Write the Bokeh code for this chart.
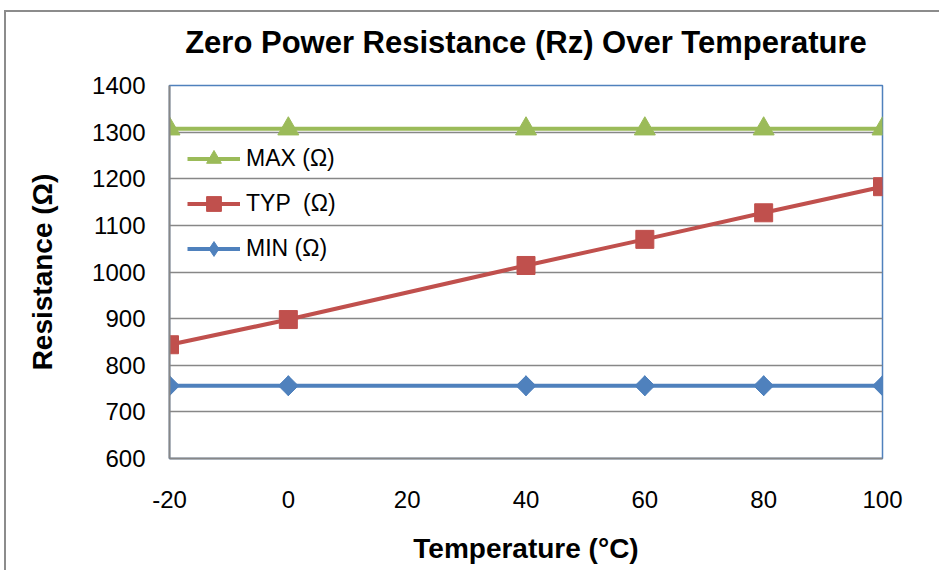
import math
from bokeh.plotting import figure
from bokeh.models import Legend, LegendItem, FixedTicker, Range1d, Title
from bokeh.embed import file_html
from bokeh.resources import INLINE

temps = [-20, 0, 40, 60, 80, 100]
max_vals = [1307, 1307, 1307, 1307, 1307, 1307]
typ_vals = [844, 898, 1014, 1070, 1127, 1183]
min_vals = [756, 756, 756, 756, 756, 756]
x_ticks = [-20, 0, 20, 40, 60, 80, 100]
x_tick_labels = ["-20", "0", "20", "40", "60", "80", "100"]
y_ticks = [600, 700, 800, 900, 1000, 1100, 1200, 1300, 1400]
title_text = "Zero Power Resistance (Rz) Over Temperature"

FONT = "Liberation Sans"
BLUE = "#4F81BD"
RED = "#C0504D"
GREEN = "#9BBB59"
GRID = "#878787"

p = figure(width=935, height=560, output_backend="svg", toolbar_location=None,
           x_range=Range1d(-20, 100), y_range=Range1d(600, 1400),
           min_border_left=163, min_border_top=72, min_border_right=59, min_border_bottom=114)
p.styles = {"margin-left": "6px", "margin-top": "12px", "box-shadow": "-2px -2px 0 0 #8c8c8c"}

# spacer title next to the frame, then the real title above it
p.add_layout(Title(text=" ", text_font_size="8px", standoff=5), "above")
p.add_layout(Title(text=title_text, text_font=FONT, text_font_size="31px",
                   text_font_style="bold", text_color="black", align="center",
                   standoff=20), "above")

p.outline_line_color = BLUE
p.outline_line_width = 1.5
p.background_fill_color = "white"
p.border_fill_color = "white"

p.xgrid.grid_line_color = None
p.ygrid.grid_line_color = GRID
p.ygrid.grid_line_width = 1.5

for ax in (p.xaxis[0], p.yaxis[0]):
    ax.axis_line_color = GRID
    ax.axis_line_width = 2
    ax.major_tick_line_color = None
    ax.minor_tick_line_color = None
    ax.major_tick_out = 0
    ax.major_tick_in = 0
    ax.major_label_text_font = FONT
    ax.major_label_text_font_size = "24px"
    ax.major_label_text_color = "black"
    ax.axis_label_text_font = FONT
    ax.axis_label_text_font_size = "28px"
    ax.axis_label_text_font_style = "bold"
    ax.axis_label_text_color = "black"

p.xaxis.ticker = FixedTicker(ticks=x_ticks)
p.xaxis.major_label_overrides = {t: lab for t, lab in zip(x_ticks, x_tick_labels)}
p.yaxis.ticker = FixedTicker(ticks=y_ticks)
p.xaxis.axis_label = "Temperature (°C)"
p.yaxis.axis_label = "Resistance (Ω)"
p.xaxis.major_label_standoff = 32
p.yaxis.major_label_standoff = 24
p.xaxis.axis_label_standoff = 22
p.yaxis.axis_label_standoff = 31

l_min = p.line(temps, min_vals, line_color=BLUE, line_width=4)
# diamond key (also drawn under the rotated squares so the legend shows a diamond)
m_min_key = p.scatter(temps, min_vals, marker="diamond", size=20, fill_color=BLUE, line_color=BLUE)
m_min = p.scatter(temps, min_vals, marker="square", angle=math.pi / 4, size=14,
                  fill_color=BLUE, line_color=BLUE)
l_typ = p.line(temps, typ_vals, line_color=RED, line_width=4)
m_typ = p.scatter(temps, typ_vals, marker="square", size=18, fill_color=RED, line_color=RED)
l_max = p.line(temps, max_vals, line_color=GREEN, line_width=4)
m_max = p.scatter(temps, max_vals, marker="triangle", size=21, fill_color=GREEN, line_color=GREEN)

legend = Legend(items=[
    LegendItem(label="MAX (Ω)", renderers=[l_max, m_max]),
    LegendItem(label="TYP  (Ω)", renderers=[l_typ, m_typ]),
    LegendItem(label="MIN (Ω)", renderers=[l_min, m_min_key]),
], location=(18, 191))
legend.padding = 0
legend.margin = 0
legend.spacing = 8
legend.label_height = 37
legend.glyph_height = 37
legend.glyph_width = 53
legend.label_standoff = 6
legend.border_line_color = None
legend.background_fill_alpha = 0
legend.label_text_font = FONT
legend.label_text_font_size = "23px"
legend.label_text_color = "black"
p.add_layout(legend)

open("out.html", "w").write(file_html(p, INLINE))
